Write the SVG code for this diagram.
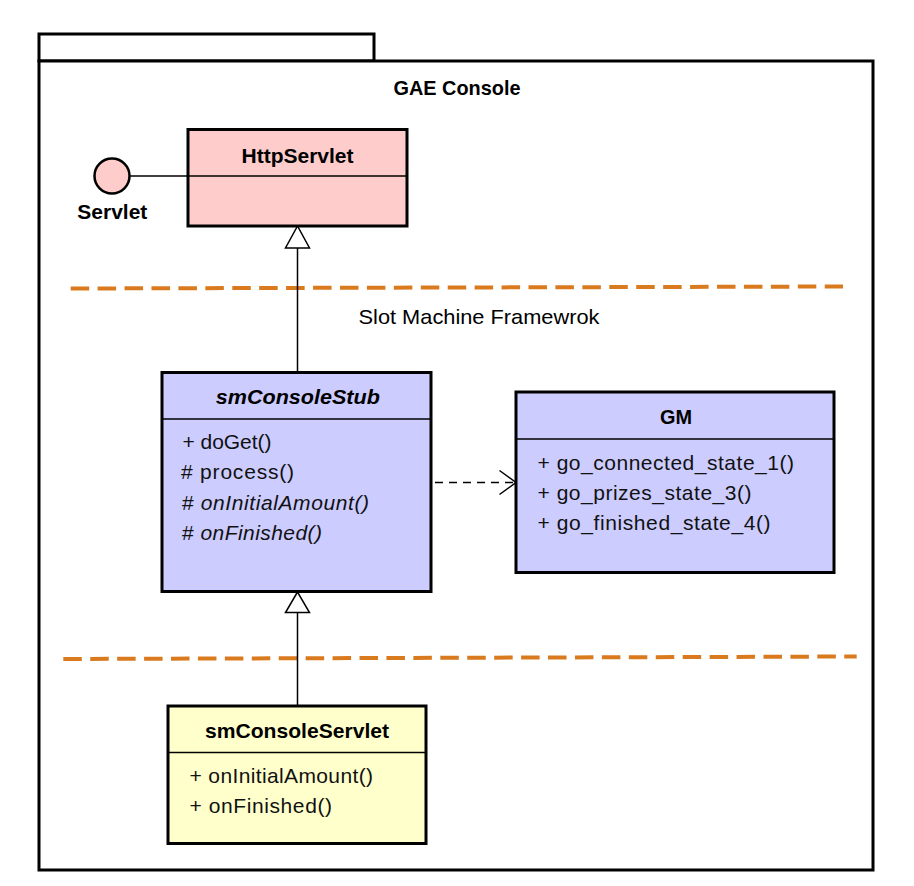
<svg xmlns="http://www.w3.org/2000/svg" width="914" height="886" viewBox="0 0 914 886">
<style>
.pkg{fill:#fff;stroke:#000;stroke-width:3}
.box{stroke:#000;stroke-width:3}
.div{stroke:#000;stroke-width:1.3}
.t{font-family:"Liberation Sans",Arial,sans-serif;font-size:21px;fill:#000}
.b{font-weight:bold}
.i{font-style:italic}
.m{font-family:"Liberation Sans",Arial,sans-serif;font-size:21px;fill:#111}
.sep{stroke:#D97A1F;stroke-width:4;stroke-dasharray:18.5 8.43;fill:none}
.conn{stroke:#000;stroke-width:1.5;fill:none}
</style>
<rect width="914" height="886" fill="#fff"/>
<g id="package">
<rect class="pkg" x="39" y="34" width="335" height="27"/>
<rect class="pkg" x="39" y="61" width="834" height="809"/>
<text class="t b" x="457" y="95" text-anchor="middle" textLength="127" lengthAdjust="spacingAndGlyphs">GAE Console</text>
</g>
<g id="separators">
<line class="sep" x1="70.7" y1="288.5" x2="843" y2="286.5"/>
<line class="sep" x1="63.3" y1="659" x2="856.7" y2="656.5"/>
<text class="t" x="358.5" y="323.5" textLength="241" lengthAdjust="spacingAndGlyphs">Slot Machine Framewrok</text>
</g>
<g id="connectors">
<line class="conn" x1="130" y1="176" x2="188" y2="176"/>
<line class="conn" x1="297.5" y1="248" x2="297.5" y2="372"/>
<polygon class="conn" style="fill:#fff" points="297.5,226 285.5,248 309.5,248"/>
<line class="conn" x1="297.5" y1="612.5" x2="297.5" y2="706"/>
<polygon class="conn" style="fill:#fff" points="297.5,592 285.5,612.5 309.5,612.5"/>
<line class="conn" x1="435" y1="482.5" x2="514" y2="482.5" stroke-dasharray="8 6"/>
<polyline class="conn" points="499.5,470.5 516,482.5 499.5,494.5"/>
</g>
<g id="servlet-interface">
<circle cx="112" cy="176" r="17.5" fill="#FFCCCC" stroke="#000" stroke-width="2.5"/>
<text class="t b" x="112.3" y="219.3" text-anchor="middle" textLength="70" lengthAdjust="spacingAndGlyphs">Servlet</text>
</g>
<g id="HttpServlet">
<rect class="box" x="188" y="129.5" width="219" height="96.5" fill="#FFCCCC"/>
<line class="div" x1="188" y1="176" x2="407" y2="176"/>
<text class="t b" x="297.5" y="162.7" text-anchor="middle" textLength="112" lengthAdjust="spacingAndGlyphs">HttpServlet</text>
</g>
<g id="smConsoleStub">
<rect class="box" x="162" y="372.5" width="269" height="219" fill="#CCCCFF"/>
<line class="div" x1="162" y1="419" x2="431" y2="419"/>
<text class="t b i" x="297.8" y="404" text-anchor="middle" textLength="164" lengthAdjust="spacingAndGlyphs">smConsoleStub</text>
<text class="m" x="182.5" y="449" textLength="89">+ doGet()</text>
<text class="m" x="181" y="479" textLength="113"># process()</text>
<text class="m" x="182" y="510" textLength="187"># <tspan class="i">onInitialAmount()</tspan></text>
<text class="m" x="182" y="540" textLength="140"># <tspan class="i">onFinished()</tspan></text>
</g>
<g id="GM">
<rect class="box" x="516" y="392" width="318" height="180.5" fill="#CCCCFF"/>
<line class="div" x1="516" y1="439" x2="834" y2="439"/>
<text class="t b" x="676" y="424.3" text-anchor="middle" textLength="32" lengthAdjust="spacingAndGlyphs">GM</text>
<text class="m" x="537.5" y="470" textLength="256.5">+ go_connected_state_1()</text>
<text class="m" x="537.5" y="500" textLength="214">+ go_prizes_state_3()</text>
<text class="m" x="537.5" y="530" textLength="233">+ go_finished_state_4()</text>
</g>
<g id="smConsoleServlet">
<rect class="box" x="168" y="706" width="258" height="137.5" fill="#FFFFCC"/>
<line class="div" x1="168" y1="752.5" x2="426" y2="752.5"/>
<text class="t b" x="297" y="738.3" text-anchor="middle" textLength="184" lengthAdjust="spacingAndGlyphs">smConsoleServlet</text>
<text class="m" x="189.5" y="783" textLength="183.5">+ onInitialAmount()</text>
<text class="m" x="189.5" y="813" textLength="142.5">+ onFinished()</text>
</g>
</svg>
